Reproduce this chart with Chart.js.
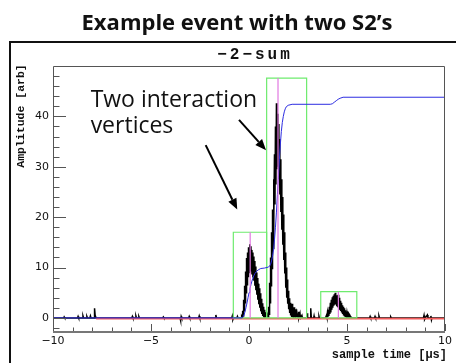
<!DOCTYPE html>
<html>
<head>
<meta charset="utf-8">
<script src="https://cdn.jsdelivr.net/npm/chart.js@4.4.1/dist/chart.umd.min.js"></script>
<style>
  html, body { margin: 0; padding: 0; background: #fff; overflow: hidden; }
  canvas { display: block; }
</style>
</head>
<body>
<canvas id="c" width="456" height="363"></canvas>
<script>
// Axis ticks
const xTicks = [-10, -5, 0, 5, 10];
const yTicks = [0, 10, 20, 30, 40];

// Summed waveform, [time (us), amplitude]
const sumBaselineLeft = [
  [-10, 0], [-9.45, 0], [-9.43, 0.2], [-9.4, 0], [-8.75, 0], [-8.72, 0.3], [-8.69, 0],
  [-8.5, 0], [-8.47, 0.4], [-8.44, 0], [-8.3, 0], [-8.27, 0.3], [-8.24, 0], [-8.12, 0],
  [-8.09, 0.4], [-8.06, 0], [-7.9, 0], [-7.88, 1.9], [-7.85, 0.5], [-7.8, 0],
  [-5.98, 0], [-5.95, 0.3], [-5.92, 0], [-5.8, 0], [-5.77, 0.4], [-5.74, 0], [-5.65, 0],
  [-5.62, 0.3], [-5.59, 0], [-4.4, 0], [-4.37, 0.2], [-4.34, 0], [-3.52, 0], [-3.49, -0.5],
  [-3.46, 0.3], [-3.43, 0], [-3.08, 0], [-3.05, 0.3], [-3.02, 0], [-2.57, 0], [-2.54, 0.4],
  [-2.51, 0], [-1.72, 0], [-1.69, 0.6], [-1.66, 0], [-0.88, 0], [-0.85, 0.4], [-0.82, -0.3],
  [-0.79, 0], [-0.62, 0], [-0.59, 0.3], [-0.56, 0], [-0.4, 0]
];
const sumPeak1 = [
  [-0.375, 0.3], [-0.35, 0.1], [-0.325, 1.4], [-0.3, 0.4], [-0.275, 3.6], [-0.25, 1.4],
  [-0.225, 6.4], [-0.2, 3.0], [-0.175, 9.2], [-0.15, 5.0], [-0.125, 11.9], [-0.1, 6.6],
  [-0.075, 13.0], [-0.05, 8.2], [-0.025, 14.0], [0, 9.0], [0.025, 14.6], [0.05, 9.8],
  [0.075, 14.2], [0.1, 9.2], [0.125, 13.5], [0.15, 8.6], [0.175, 13.0], [0.2, 8.0],
  [0.225, 12.2], [0.25, 7.4], [0.275, 11.3], [0.3, 6.4], [0.325, 10.2], [0.35, 5.5],
  [0.375, 9.0], [0.4, 4.6], [0.425, 7.9], [0.45, 3.6], [0.475, 6.8], [0.5, 2.7],
  [0.525, 5.9], [0.55, 2.0], [0.575, 4.9], [0.6, 1.3], [0.625, 3.8], [0.65, 0.8],
  [0.675, 2.9], [0.7, 0.4], [0.725, 2.2], [0.75, 0.1], [0.775, 1.6], [0.8, 0.0],
  [0.825, 1.1], [0.85, 0.1], [0.875, 0.6], [0.9, 0.0]
];
const sumPeak2 = [
  [0.925, 0], [0.95, 0.5], [0.975, 0.2], [1.0, 2.2], [1.025, 0.7], [1.05, 7.0], [1.075, 3.0],
  [1.1, 12.0], [1.125, 6.4], [1.15, 17.0], [1.175, 9.8], [1.2, 21.5], [1.225, 13.8],
  [1.25, 27.5], [1.275, 18.5], [1.3, 32.5], [1.325, 22.5], [1.35, 38.0], [1.375, 26.5],
  [1.4, 42.6], [1.425, 29.5], [1.45, 40.5], [1.475, 30.0], [1.5, 38.5], [1.525, 27.5],
  [1.55, 35.5], [1.575, 24.5], [1.6, 31.5], [1.625, 21.0], [1.65, 27.5], [1.675, 17.5],
  [1.7, 24.0], [1.725, 14.5], [1.75, 20.5], [1.775, 11.5], [1.8, 17.0], [1.825, 8.8],
  [1.85, 13.0], [1.875, 6.0], [1.9, 10.0], [1.925, 4.0], [1.95, 7.6], [1.975, 2.8],
  [2.0, 5.4], [2.025, 1.7], [2.05, 3.9], [2.075, 1.0], [2.1, 3.0], [2.125, 0.5],
  [2.15, 2.4], [2.175, 0.2], [2.2, 2.8], [2.225, 0.1], [2.25, 1.6], [2.275, 0.0],
  [2.3, 2.1], [2.325, 0.1], [2.35, 1.3], [2.375, 0.0], [2.4, 1.7], [2.425, 0.1],
  [2.45, 1.0], [2.5, 0.0], [2.525, 1.2], [2.55, 0.0], [2.6, 0.9], [2.625, 0.0],
  [2.7, 0.5], [2.725, 0.0]
];
const sumGap = [
  [2.95, 0], [2.97, 0.9], [2.99, 0], [3.12, 0], [3.15, 1.9], [3.18, 0], [3.3, 0],
  [3.32, 0.4], [3.34, 0], [3.55, 0], [3.57, 0.3], [3.59, 0], [3.9, 0]
];
const sumPeak3 = [
  [3.95, 0.5], [3.975, 0.1], [4.0, 1.0], [4.025, 0.2], [4.05, 1.6], [4.075, 0.4],
  [4.1, 2.2], [4.125, 0.8], [4.15, 3.0], [4.175, 1.1], [4.2, 3.6], [4.225, 1.6],
  [4.25, 4.1], [4.275, 2.0], [4.3, 4.4], [4.325, 2.4], [4.35, 4.7], [4.375, 2.6],
  [4.4, 5.0], [4.425, 2.7], [4.45, 4.5], [4.475, 2.3], [4.5, 4.1], [4.525, 2.1],
  [4.55, 4.6], [4.575, 1.9], [4.6, 4.0], [4.625, 1.6], [4.65, 3.4], [4.675, 1.4],
  [4.7, 3.0], [4.725, 1.1], [4.75, 2.5], [4.775, 0.8], [4.8, 2.2], [4.825, 0.5],
  [4.85, 1.9], [4.875, 0.3], [4.9, 1.5], [4.925, 0.2], [4.95, 1.2], [4.975, 0.0],
  [5.0, 1.0], [5.025, 0.0], [5.05, 1.3], [5.075, 0.0], [5.1, 0.8], [5.15, 0.5],
  [5.175, 0.0], [5.2, 0.2], [5.25, 0.0]
];
const sumBaselineRight = [
  [6.15, 0], [6.18, 0.3], [6.21, 0], [6.4, 0], [6.43, 0.3], [6.46, 0], [6.6, 0],
  [6.63, 0.4], [6.66, 0], [7.2, 0], [7.23, 0.2], [7.26, 0], [8.9, 0], [8.93, 0.5],
  [8.96, -0.3], [9.0, 0], [9.1, 0.6], [9.13, 0], [9.25, 0], [9.28, 0.4], [9.31, -0.4],
  [9.34, 0], [10, 0]
];

// Running integral of the summed waveform
const integral = [
  [-10, 0], [-0.35, 0], [-0.3, 0.2], [-0.25, 0.6], [-0.2, 1.3], [-0.15, 2.1], [-0.1, 3.0],
  [-0.05, 4.0], [0, 5.0], [0.05, 5.8], [0.1, 6.6], [0.15, 7.3], [0.2, 7.9], [0.25, 8.4],
  [0.3, 8.8], [0.4, 9.3], [0.5, 9.6], [0.6, 9.8], [0.8, 9.9], [1.0, 10.1], [1.05, 10.3],
  [1.1, 10.6], [1.15, 11.3], [1.2, 12.2], [1.25, 13.5], [1.3, 15.5], [1.35, 18.0],
  [1.4, 21.0], [1.45, 24.5], [1.5, 28.0], [1.55, 31.5], [1.6, 34.5], [1.65, 37.0],
  [1.7, 38.8], [1.75, 40.0], [1.8, 40.9], [1.85, 41.5], [1.9, 41.9], [2.0, 42.2],
  [2.2, 42.4], [4.15, 42.4], [4.25, 42.5], [4.35, 42.8], [4.45, 43.1], [4.55, 43.4],
  [4.65, 43.6], [4.8, 43.8], [10, 43.8]
];

// Pulse search windows: [start, end, height] and pulse centre times
const pulseWindows = [[-0.8, 0.9, 17.0], [0.9, 2.94, 47.6], [3.66, 5.5, 5.2]];
const pulseCentres = [0.06, 1.48, 4.56];
const baselineSpan = [-7.8, 10];

// Annotation: text anchor and arrows [x0, y0, x1, y1] in data units
const noteLines = ['Two interaction', 'vertices'];
const noteAnchor = [-8.08, 41.9];
const noteArrows = [[-2.21, 34.3, -0.6, 21.5], [-0.51, 39.3, 0.87, 33.3]];

const toXY = arr => arr.map(p => ({ x: p[0], y: p[1] }));
const sumTrace = [].concat(sumBaselineLeft, sumPeak1, sumPeak2, sumGap, sumPeak3, sumBaselineRight);

const datasets = [];
pulseWindows.forEach((w, i) => {
  datasets.push({
    data: [{ x: pulseCentres[i], y: 0 }, { x: pulseCentres[i], y: w[2] }],
    borderColor: 'rgb(225,120,225)', borderWidth: 1.2, order: 0
  });
});
datasets.push({ data: toXY(integral), borderColor: 'rgb(45,45,225)', borderWidth: 1, order: 1 });
pulseWindows.forEach(w => {
  datasets.push({
    data: [{ x: w[0], y: 0 }, { x: w[0], y: w[2] }, { x: w[1], y: w[2] }, { x: w[1], y: 0 }, { x: w[0], y: 0 }],
    borderColor: 'rgb(110,235,110)', borderWidth: 1.2, order: 2
  });
});
datasets.push({
  data: [{ x: baselineSpan[0], y: -0.15 }, { x: baselineSpan[1], y: -0.15 }],
  borderColor: 'rgb(240,90,90)', borderWidth: 1.6, order: 3
});
datasets.push({ data: toXY(sumTrace), borderColor: '#000', borderWidth: 1.5, order: 4 });

const fmt = v => (v < 0 ? '\u2212' + Math.abs(v) : String(v));

const rootStyle = {
  id: 'rootStyle',
  beforeDraw(chart) {
    const ctx = chart.ctx;
    ctx.save();
    ctx.fillStyle = '#fff';
    ctx.fillRect(0, 0, chart.width, chart.height);
    ctx.restore();
  },
  afterDraw(chart) {
    const ctx = chart.ctx;
    const { left, right, top, bottom } = chart.chartArea;
    const xs = chart.scales.x, ys = chart.scales.y;
    ctx.save();

    // canvas frame
    ctx.strokeStyle = '#111';
    ctx.lineWidth = 2;
    ctx.strokeRect(10, 42, 470, 340);

    // headline
    ctx.fillStyle = '#111';
    ctx.textAlign = 'center';
    ctx.textBaseline = 'alphabetic';
    ctx.font = 'bold 22px "Open Sans"';
    ctx.fillText('Example event with two S2\u2019s', 237, 30);

    // histogram title
    ctx.font = 'bold 16px "Liberation Mono"';
    if ('letterSpacing' in ctx) ctx.letterSpacing = '3px';
    ctx.fillText('\u22122\u2212sum', 255, 59);
    if ('letterSpacing' in ctx) ctx.letterSpacing = '0px';

    // plot frame
    ctx.strokeStyle = '#555';
    ctx.lineWidth = 1;
    ctx.beginPath();
    ctx.moveTo(left + 0.5, bottom); ctx.lineTo(left + 0.5, top + 0.5);
    ctx.lineTo(right - 0.5, top + 0.5); ctx.lineTo(right - 0.5, bottom);
    ctx.stroke();
    ctx.strokeStyle = '#777';
    ctx.lineWidth = 2;
    ctx.beginPath();
    ctx.moveTo(left, bottom + 1); ctx.lineTo(right, bottom + 1);
    ctx.stroke();

    // axis tick marks, drawn inward
    ctx.strokeStyle = '#555';
    ctx.lineWidth = 1;
    ctx.beginPath();
    for (let v = -2; v <= 48; v += 2) {
      const py = Math.round(ys.getPixelForValue(v)) + 0.5;
      const len = yTicks.includes(v) ? 13 : 6.5;
      ctx.moveTo(left, py); ctx.lineTo(left + len, py);
    }
    for (let v = -10; v <= 10; v += 1) {
      const px = Math.round(xs.getPixelForValue(v)) + 0.5;
      const len = xTicks.includes(v) ? 7 : 3.5;
      ctx.moveTo(px, bottom); ctx.lineTo(px, bottom - len);
    }
    ctx.stroke();

    // axis titles
    ctx.fillStyle = '#111';
    ctx.font = 'bold 12px "Liberation Mono"';
    ctx.textAlign = 'right';
    ctx.fillText('sample time [\u00b5s]', 447, 358);
    ctx.save();
    ctx.translate(24, 116);
    ctx.rotate(-Math.PI / 2);
    ctx.textAlign = 'center';
    ctx.font = 'bold 11.5px "Liberation Mono"';
    ctx.fillText('Amplitude [arb]', 0, 0);
    ctx.restore();

    // annotation text
    ctx.font = '23px "Open Sans"';
    ctx.textAlign = 'left';
    const ax = xs.getPixelForValue(noteAnchor[0]);
    const ay = ys.getPixelForValue(noteAnchor[1]);
    noteLines.forEach((t, i) => ctx.fillText(t, ax, ay + i * 26.6));

    // arrows
    ctx.strokeStyle = '#000';
    ctx.fillStyle = '#000';
    ctx.lineWidth = 2;
    noteArrows.forEach(a => {
      const x0 = xs.getPixelForValue(a[0]), y0 = ys.getPixelForValue(a[1]);
      const x1 = xs.getPixelForValue(a[2]), y1 = ys.getPixelForValue(a[3]);
      const ang = Math.atan2(y1 - y0, x1 - x0);
      const hl = 11, hw = 4.5;
      const bx = x1 - hl * Math.cos(ang), by = y1 - hl * Math.sin(ang);
      ctx.beginPath();
      ctx.moveTo(x0, y0); ctx.lineTo(bx, by);
      ctx.stroke();
      ctx.beginPath();
      ctx.moveTo(x1, y1);
      ctx.lineTo(bx + hw * Math.sin(ang), by - hw * Math.cos(ang));
      ctx.lineTo(bx - hw * Math.sin(ang), by + hw * Math.cos(ang));
      ctx.closePath();
      ctx.fill();
    });
    ctx.restore();
  }
};

new Chart(document.getElementById('c'), {
  type: 'line',
  data: { datasets },
  options: {
    responsive: false,
    animation: false,
    devicePixelRatio: 1,
    parsing: false,
    layout: { padding: { left: 0, right: 10, top: 66, bottom: 0 } },
    plugins: { legend: { display: false }, tooltip: { enabled: false }, title: { display: false } },
    elements: { point: { radius: 0 }, line: { tension: 0, fill: false } },
    scales: {
      x: {
        type: 'linear', min: -10, max: 10,
        afterFit(s) { s.height = 32; },
        afterBuildTicks(s) { s.ticks = xTicks.map(v => ({ value: v })); },
        grid: { display: false, drawTicks: false },
        border: { display: false },
        ticks: { padding: 4, color: '#111', maxRotation: 0, autoSkip: false,
                 font: { family: 'DejaVu Sans', size: 11 }, callback: v => fmt(v) }
      },
      y: {
        type: 'linear', min: -2.6, max: 50,
        afterFit(s) { s.width = 53; },
        afterBuildTicks(s) { s.ticks = yTicks.map(v => ({ value: v })); },
        grid: { display: false, drawTicks: false },
        border: { display: false },
        ticks: { padding: 4, color: '#111', autoSkip: false,
                 font: { family: 'DejaVu Sans', size: 11 }, callback: v => fmt(v) }
      }
    }
  },
  plugins: [rootStyle]
});
</script>
</body>
</html>
